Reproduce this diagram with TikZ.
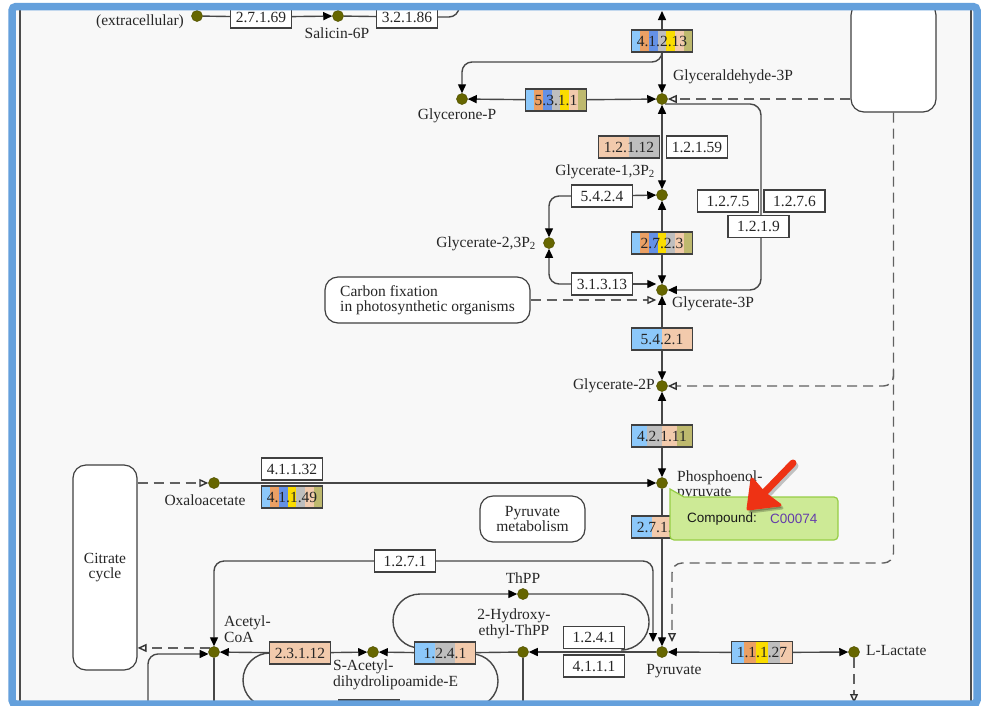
\documentclass[tikz,border=0pt]{standalone}
\usepackage{fontspec}
\setmainfont{Liberation Serif}
\newfontfamily\tipfont{Liberation Sans}
\usetikzlibrary{arrows.meta,calc}
\pgfdeclarelayer{back}\pgfdeclarelayer{bg}\pgfdeclarelayer{front}
\pgfsetlayers{back,bg,main,front}
\definecolor{kLB}{RGB}{140,200,250}
\definecolor{kOR}{RGB}{235,160,100}
\definecolor{kBL}{RGB}{100,145,230}
\definecolor{kGR}{RGB}{190,190,190}
\definecolor{kYE}{RGB}{250,220,0}
\definecolor{kPE}{RGB}{242,202,172}
\definecolor{kOL}{RGB}{190,185,110}
\definecolor{kcpd}{RGB}{102,102,0}
\definecolor{kbg}{RGB}{248,248,248}
\definecolor{kframe}{RGB}{100,160,220}
\definecolor{tipfill}{RGB}{205,234,150}
\definecolor{tipdraw}{RGB}{150,205,70}
\definecolor{cid}{RGB}{100,60,170}
\definecolor{kred}{RGB}{238,50,20}
\newcommand\kf{\fontsize{15.5}{15.5}\selectfont}
\newcommand\ecbox[6]{%
  \foreach \c [count=\i] in {#6}{\fill[\c] ({#2-30.5+(\i-1)*61/#5},{#3-11}) rectangle ({#2-30.5+\i*61/#5},{#3+11});}%
  \node[enz,fill=none] (#1) at (#2,#3) {#4};}
\begin{document}
\begin{tikzpicture}[x=1pt,y=-1pt,
 enz/.style={draw=black!75,fill=white,line width=1.2pt,minimum width=61pt,minimum height=22pt,inner sep=0pt,font=\kf,text=black!85},
 cpd/.style={circle,fill=kcpd,draw=kcpd!80!black,line width=0.5pt,minimum size=11pt,inner sep=0pt},
 lbl/.style={inner sep=0pt,font=\kf,text=black!85},
 mapbox/.style={draw=black!75,fill=white,line width=1.2pt,rounded corners=13pt,inner sep=0pt,font=\kf,text=black!85,align=center},
 rxn/.style={draw=black!72,line width=1.4pt},
 arr/.style={-{Triangle[length=9pt,width=8pt,color=black]}},
 barr/.style={{Triangle[length=9pt,width=8pt,color=black]}-{Triangle[length=9pt,width=8pt,color=black]}},
 dsh/.style={draw=black!62,line width=1.4pt,dash pattern=on 10pt off 6pt},
 oarr/.style={-{Triangle[open,length=9pt,width=8pt,color=black!80]}},
]
\useasboundingbox (0,0) rectangle (982,705);
\begin{pgfonlayer}{back}
  \fill[kbg] (12,6) rectangle (977,704);
\end{pgfonlayer}
\draw[black!70,line width=1.2pt] (20,8) -- (20,702) (971,8) -- (971,702);

% compounds
\node[cpd] (salicin) at (197,16) {};
\node[cpd] (sal6p) at (338,16) {};
\node[cpd] (glyP) at (462,99) {};
\node[cpd] (g3p) at (662,99) {};
\node[cpd] (g13) at (662,195) {};
\node[cpd] (g23) at (549,243) {};
\node[cpd] (g3) at (662,290) {};
\node[cpd] (g2) at (662,386) {};
\node[cpd] (pep) at (662,483) {};
\node[cpd] (oaa) at (214,483) {};
\node[cpd] (acoa) at (214,652) {};
\node[cpd] (sac) at (373,652) {};
\node[cpd] (thpp) at (523,594) {};
\node[cpd] (hte) at (523,652) {};
\node[cpd] (pyr) at (662,652) {};
\node[cpd] (lac) at (854,652) {};

% enzymes
\node[enz] (e2769) at (261,17) {2.7.1.69};
\node[enz] (e3218) at (407,17) {3.2.1.86};
\ecbox{e41213}{662}{41}{4.1.2.13}{7}{kLB,kOR,kBL,kGR,kYE,kPE,kOL}
\ecbox{e5311}{556}{100}{5.3.1.1}{7}{kLB,kOR,kBL,kGR,kYE,kPE,kOL}
\ecbox{e12112}{629}{147}{1.2.1.12}{2}{kPE,kGR}
\node[enz] (e12159) at (697,147) {1.2.1.59};
\node[enz] (e5424) at (602,196) {5.4.2.4};
\ecbox{e2723}{662}{243}{2.7.2.3}{7}{kLB,kOR,kBL,kYE,kGR,kPE,kOL}
\node[enz] (e31313) at (602,284) {3.1.3.13};
\node[enz] (e1275) at (728,201) {1.2.7.5};
\node[enz] (e1276) at (794.5,201) {1.2.7.6};
\node[enz] (e1219) at (758.5,226.5) {1.2.1.9};
\ecbox{e5421}{662}{339}{5.4.2.1}{2}{kLB,kPE}
\ecbox{e42111}{662}{436}{4.2.1.11}{4}{kLB,kGR,kPE,kOL}
\node[enz] (e41132) at (292,469) {4.1.1.32};
\ecbox{e41149}{292}{497}{4.1.1.49}{7}{kLB,kOR,kBL,kYE,kGR,kPE,kOL}
\ecbox{e27140}{662}{527}{2.7.1.40}{3}{kLB,kPE,kOL}
\node[enz] (e1271) at (405,561) {1.2.7.1};
\ecbox{e23112}{300}{653}{2.3.1.12}{1}{kPE}
\ecbox{e1241a}{445}{653}{1.2.4.1}{3}{kLB,kGR,kPE}
\node[enz] (e1241b) at (594,637.5) {1.2.4.1};
\node[enz] (e4111) at (594,666) {4.1.1.1};
\ecbox{e11127}{762}{652.5}{1.1.1.27}{5}{kLB,kOR,kYE,kGR,kPE}
\ecbox{ebot}{369}{711}{}{1}{kOL}

% map boxes
\node[mapbox,minimum width=85pt,minimum height=110pt] (bigbox) at (893.5,57) {};
\node[mapbox,minimum width=64pt,minimum height=205pt] (citrate) at (105,567.5) {Citrate\\cycle};
\node[mapbox,minimum width=205pt,minimum height=46pt,align=left] (carbon) at (427.5,300) {Carbon fixation\\in photosynthetic organisms};
\node[mapbox,minimum width=105pt,minimum height=46pt] (pyrmet) at (532.5,519) {Pyruvate\\metabolism};

% coordinates for free ends
\coordinate (tlA) at (459,2);
\coordinate (topA) at (662,11);
\coordinate (brA) at (662,62);
\coordinate (rv) at (761,0);
\coordinate (dvB) at (893.5,563);
\coordinate (dvL) at (672,563);
\coordinate (pyrD) at (672,642);
\coordinate (dvM) at (893.5,370);
\coordinate (pyrL) at (653,642);
\coordinate (bl) at (148,706);
\coordinate (lacD) at (854,703);
\coordinate (lpA) at (420,648);
\coordinate (lpB) at (621,650);
\coordinate (llA) at (270,653);
\coordinate (llB) at (472,654);

\begin{pgfonlayer}{bg}
\draw[rxn] (salicin) -- (e2769);
\draw[rxn,arr] (e2769) -- (sal6p);
\draw[rxn] (sal6p) -- (e3218);
\draw[rxn,rounded corners=10pt] (e3218.east) -- (tlA |- e3218.east) -- (tlA);
\draw[rxn,arr] (e41213) -- (topA);
\draw[rxn,arr] (e41213) -- (g3p);
\draw[rxn,arr,rounded corners=10pt] (e41213.south) -- (brA) -- (brA -| glyP) -- (glyP);
\draw[rxn,arr] (e5311) -- (glyP);
\draw[rxn,arr] (e5311) -- (g3p);
\draw[dsh,oarr] (bigbox.west |- g3p) -- (g3p);
\draw[rxn,arr,rounded corners=11pt] (g3p.-60) -- (g3p.-60 -| rv) -- (rv |- g3) -- (g3);
\draw[rxn,barr] (g3p) -- (g13);
\draw[rxn,arr] (e5424) -- (g13);
\draw[rxn,arr,rounded corners=10pt] (e5424.west) -- (e5424.west -| g23) -- (g23);
\draw[rxn,barr] (g13) -- (g3);
\draw[rxn,arr,rounded corners=10pt] (e31313.west) -- (e31313.west -| g23) -- (g23);
\draw[rxn,arr] (e31313.east) -- (e31313.east -| g3.west);
\draw[dsh,oarr] (carbon.east) -- (carbon.east -| g3.west);
\draw[rxn,barr] (g3) -- (g2);
\draw[dsh,oarr,rounded corners=10pt] (bigbox.south) -- (dvB) -- (dvL) -- (pyrD);
\draw[dsh,oarr,rounded corners=10pt] (dvM) -- (dvM |- g2) -- (g2);
\draw[rxn,barr] (g2) -- (pep);
\draw[rxn,arr] (oaa) -- (pep);
\draw[dsh,oarr] (citrate.east |- oaa) -- (oaa);
\draw[rxn,arr] (pep) -- (pyr);
\draw[rxn,barr,rounded corners=10pt] (acoa) -- (acoa |- e1271) -- (e1271 -| pyrL) -- (pyrL);
\draw[dsh,oarr] (acoa.135) -- (acoa.135 -| citrate.east);
\draw[rxn,arr,rounded corners=10pt] (bl) -- (bl |- acoa.-160) -- (acoa.-160);
\draw[rxn] (acoa) -- (acoa |- bl);
\draw[rxn,arr] (e23112) -- (acoa);
\draw[rxn,arr] (e23112) -- (sac);
\draw[rxn,arr] (e1241a) -- (sac);
\draw[rxn] (e1241a) -- (hte);
\draw[rxn] (hte) -- (hte |- bl);
\draw[rxn,arr] (pyr) -- (hte);
\draw[rxn,arr] (e11127) -- (pyr);
\draw[rxn,arr] (e11127) -- (lac);
\draw[dsh,oarr] (lac) -- (lacD);
\draw[rxn,arr] (lpA) .. controls (405,648) and (393,636) .. (393,621) .. controls (393,606) and (405,594) .. (420,594) -- (thpp);
\draw[rxn] (thpp) -- (621,594) .. controls (636.5,594) and (649,606.5) .. (649,622) .. controls (649,637.5) and (636.5,650) .. (lpB);
\draw[rxn] (llA) .. controls (255,653) and (243,665) .. (243,680) .. controls (243,695) and (255,707) .. (270,707) -- (472,707) .. controls (486.4,707) and (498,695.4) .. (498,681) .. controls (498,666.6) and (486.4,654) .. (llB);
\end{pgfonlayer}

% labels
\node[lbl] (tExt) at (140,22) {(extracellular)};
\node[lbl] (tS6P) at (337,33) {Salicin-6P};
\node[lbl] (tGlyP) at (457,116) {Glycerone-P};
\node[lbl,anchor=west] (tG3P) at (673,77) {Glyceraldehyde-3P};
\node[lbl,anchor=east] (tG13) at (655,172) {Glycerate-1,3P\textsubscript{2}};
\node[lbl,anchor=east] (tG23) at (536,244) {Glycerate-2,3P\textsubscript{2}};
\node[lbl,anchor=west] (tG3) at (672,304) {Glycerate-3P};
\node[lbl,anchor=east] (tG2) at (655,386) {Glycerate-2P};
\node[lbl,anchor=west] (tPEP) at (677,478) {Phosphoenol-};
\node[lbl,anchor=west] (tPEP2) at (677,494) {pyruvate};
\node[lbl] (tOAA) at (205,500) {Oxaloacetate};
\node[lbl] (tThPP) at (523,578) {ThPP};
\node[lbl,align=center] (tHTE) at (514,624) {2-Hydroxy-\\ethyl-ThPP};
\node[lbl,align=left,anchor=west] (tAcoa) at (224,629) {Acetyl-\\CoA};
\node[lbl,align=left,anchor=west] (tSac) at (333,675) {S-Acetyl-\\dihydrolipoamide-E};
\node[lbl] (tPyr) at (674,671) {Pyruvate};
\node[lbl,anchor=west] (tLac) at (866,650) {L-Lactate};

\begin{pgfonlayer}{front}
% tooltip
\draw[fill=tipfill,draw=tipdraw,line width=1.2pt] (670,489) -- (684,497) [rounded corners=4pt] -- (838,497) -- (838,540) -- (670,540) [sharp corners] -- cycle;
\node[inner sep=0pt,anchor=west,font=\tipfont\fontsize{13.5}{13.5}\selectfont,text=black!90] (tipA) at (687,519) {Compound:};
\node[inner sep=0pt,anchor=west,font=\tipfont\fontsize{13.5}{13.5}\selectfont,text=cid] (tipB) at (770,519) {C00074};
% red pointer arrow
\begin{scope}[shift={(2,3)},black,opacity=0.22]
\fill[draw=black,line width=3pt,line join=round] (748,509) -- (752,479) -- (764,493) -- (780,505) -- cycle;
\draw[line width=7pt,line cap=round] (793,463) -- (763,494);
\end{scope}
\fill[kred,draw=kred,line width=3pt,line join=round] (748,509) -- (752,479) -- (764,493) -- (780,505) -- cycle;
\draw[kred,line width=7pt,line cap=round] (793,463) -- (763,494);
% screenshot frame
\fill[white,even odd rule] (-1,-1) rectangle (983,706) (8.25,2.75) rectangle (980.75,708);
\draw[kframe,line width=7.5pt,rounded corners=4pt] (12,6.5) rectangle (977,704);
\end{pgfonlayer}
\end{tikzpicture}
\end{document}
